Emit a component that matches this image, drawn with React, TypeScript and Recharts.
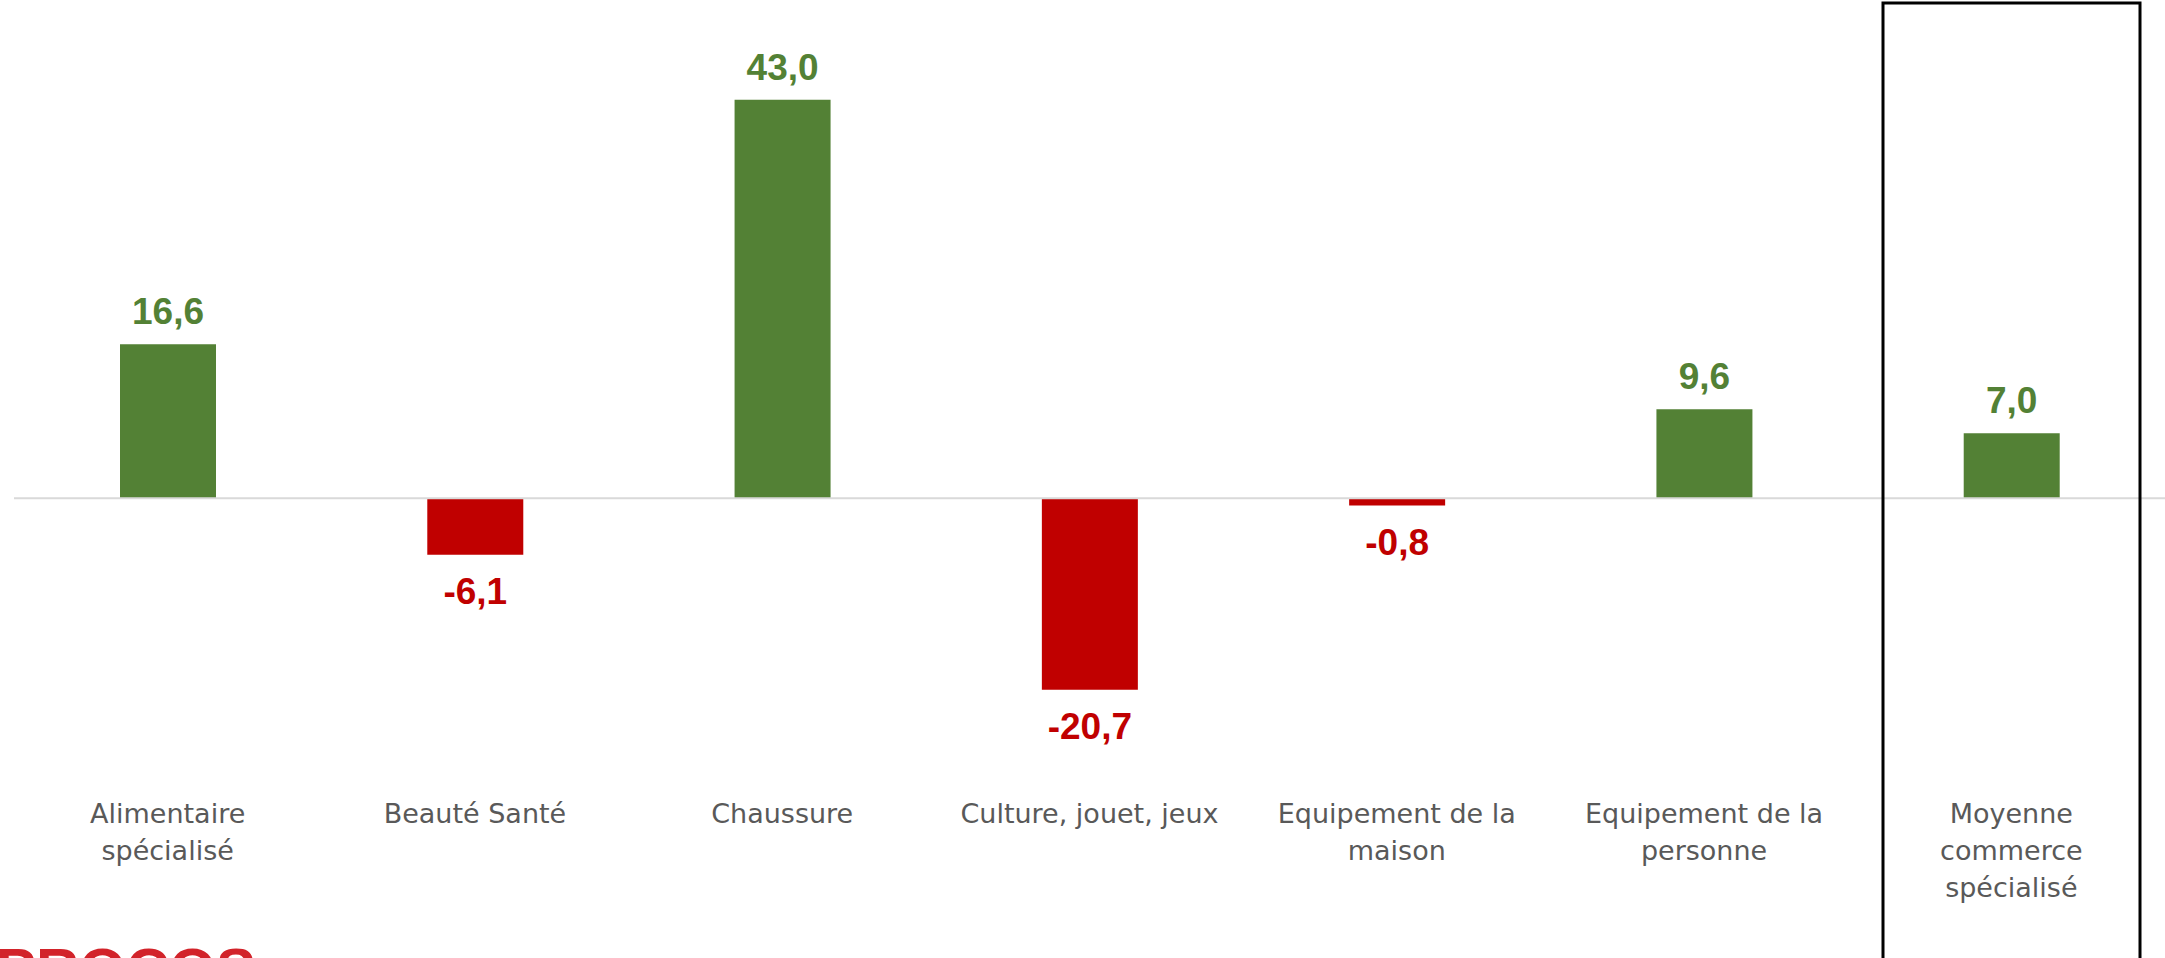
import React from "react";
import { BarChart, Bar, XAxis, YAxis, ReferenceLine, Cell, LabelList } from "recharts";

const categories = [
  "Alimentaire\nspécialisé",
  "Beauté Santé",
  "Chaussure",
  "Culture, jouet, jeux",
  "Equipement de la\nmaison",
  "Equipement de la\npersonne",
  "Moyenne\ncommerce\nspécialisé",
];
const values = [16.6, -6.1, 43.0, -20.7, -0.8, 9.6, 7.0];

const GREEN = "#538135";
const RED = "#C00000";

const data = categories.map((c, i) => ({ name: c, value: values[i] }));

const fmt = (v: number) => v.toFixed(1).replace(".", ",");

const Tick = (props: any) => {
  const { x, y, payload } = props;
  const lines = String(payload.value).split("\n");
  return (
    <text
      x={x}
      y={y}
      textAnchor="middle"
      fill="#595959"
      fontFamily="DejaVu Sans"
      fontSize={27}
    >
      {lines.map((l, i) => (
        <tspan key={i} x={x} dy={i === 0 ? 47 : 37}>
          {l}
        </tspan>
      ))}
    </text>
  );
};

const ValueLabel = (props: any) => {
  const { x, y, width, height, value } = props;
  const top = Math.min(y, y + height);
  const bottom = Math.max(y, y + height);
  const neg = value < 0;
  return (
    <text
      x={x + width / 2}
      y={neg ? bottom + 49 : top - 20}
      textAnchor="middle"
      fill={neg ? RED : GREEN}
      fontFamily="Liberation Sans"
      fontWeight="bold"
      fontSize={37}
    >
      {fmt(value)}
    </text>
  );
};

export default function App() {
  return (
    <div style={{ position: "absolute", left: 0, top: 0, width: 2165, height: 958, overflow: "hidden", background: "#fff" }}>
      <BarChart
        width={2165}
        height={958}
        data={data}
        margin={{ top: 35, right: 0, bottom: 0, left: 14 }}
        barSize={96}
      >
        <XAxis
          dataKey="name"
          axisLine={false}
          tickLine={false}
          tickSize={0}
          tickMargin={0}
          height={182}
          interval={0}
          tick={<Tick />}
        />
        <YAxis hide domain={[-30, 50]} />
        <ReferenceLine y={0} stroke="#d9d9d9" strokeWidth={2} />
        <Bar dataKey="value" isAnimationActive={false}>
          {data.map((d, i) => (
            <Cell key={i} fill={d.value < 0 ? RED : GREEN} />
          ))}
          <LabelList dataKey="value" content={<ValueLabel />} />
        </Bar>
      </BarChart>
      <svg
        width={2165}
        height={958}
        style={{ position: "absolute", left: 0, top: 0, pointerEvents: "none" }}
      >
        <rect x={1883} y={3} width={257} height={1000} fill="none" stroke="#000" strokeWidth={3} />
        <text x={-4} y={990} fill="#d2232a" fontFamily="Liberation Sans" fontWeight="bold" fontSize={60}>
          PROCOS
        </text>
      </svg>
    </div>
  );
}
